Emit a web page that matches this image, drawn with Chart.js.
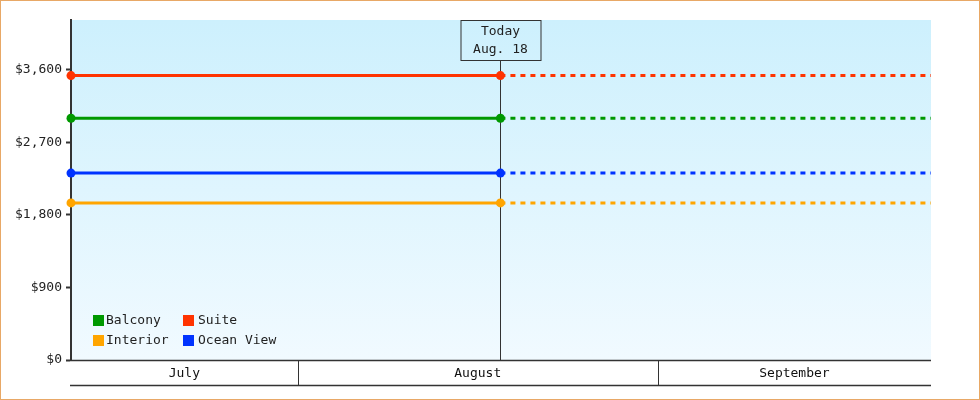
<!DOCTYPE html>
<html>
<head>
<meta charset="utf-8">
<script src="https://cdn.jsdelivr.net/npm/chart.js@4/dist/chart.umd.min.js"></script>
<style>
html,body{margin:0;padding:0;background:#fff;}
canvas{display:block;}
</style>
</head>
<body>
<canvas id="c" width="980" height="400"></canvas>
<script>
// ---- data ----
const seriesNames = ['Balcony', 'Suite', 'Interior', 'Ocean View'];
const seriesColors = ['#009900', '#ff3300', '#ffa500', '#0033ff'];
const seriesValues = [3000, 3530, 1950, 2320];
// day numbers counted from July 1 (= 0)
const months = ['July', 'August', 'September'];
const monthStarts = [0, 31, 62, 92];
const rangeStart = 11.5;
const rangeEnd = 85.5;
const todayDay = 48.45;
const todayLabel = ['Today', 'Aug. 18'];
const yTicks = [0, 900, 1800, 2700, 3600];
const yMax = 4220;

const FONT = '13px "DejaVu Sans Mono", monospace';

const datasets = seriesNames.map((name, i) => ({
  label: name,
  data: [
    {x: rangeStart, y: seriesValues[i]},
    {x: todayDay, y: seriesValues[i]},
    {x: rangeEnd, y: seriesValues[i]}
  ],
  borderColor: seriesColors[i],
  backgroundColor: seriesColors[i],
  borderWidth: 3,
  borderCapStyle: 'butt',
  pointRadius: [4.5, 4.5, 0],
  pointHoverRadius: [4.5, 4.5, 0],
  pointBorderWidth: 0,
  clip: false,
  segment: {
    borderDash: ctx => ctx.p0.parsed.x >= todayDay ? [5, 5] : undefined
  }
}));

const bgPlugin = {
  id: 'bg',
  beforeDraw(chart) {
    const {ctx, chartArea: a} = chart;
    ctx.save();
    ctx.fillStyle = '#ffffff';
    ctx.fillRect(0, 0, chart.width, chart.height);
    const g = ctx.createLinearGradient(0, a.top, 0, a.bottom);
    g.addColorStop(0, '#cdf0fd');
    g.addColorStop(1, '#f1faff');
    ctx.fillStyle = g;
    ctx.fillRect(a.left, a.top, a.right - a.left, a.bottom - a.top);
    ctx.restore();
  }
};

const todayPlugin = {
  id: 'today',
  beforeDatasetsDraw(chart) {
    const {ctx, chartArea: a, scales: {x}} = chart;
    const px = Math.round(x.getPixelForValue(todayDay)) + 0.5;
    const bw = 80, bh = 40;
    ctx.save();
    ctx.strokeStyle = '#333';
    ctx.lineWidth = 1;
    ctx.beginPath();
    ctx.moveTo(px, a.top + bh);
    ctx.lineTo(px, a.bottom);
    ctx.stroke();
    ctx.strokeRect(Math.round(px - bw / 2), a.top + 0.5, bw, bh);
    ctx.fillStyle = '#222';
    ctx.font = FONT;
    ctx.textAlign = 'center';
    ctx.textBaseline = 'middle';
    ctx.fillText(todayLabel[0], px, a.top + 12);
    ctx.fillText(todayLabel[1], px, a.top + 30);
    ctx.restore();
  }
};

const bandPlugin = {
  id: 'band',
  afterDraw(chart) {
    const {ctx, chartArea: a, scales: {x}} = chart;
    const top = a.bottom, bot = a.bottom + 25;
    ctx.save();
    ctx.strokeStyle = '#333';
    ctx.lineWidth = 1.5;
    ctx.beginPath();
    ctx.moveTo(a.left - 1, top + 0.5);
    ctx.lineTo(a.right, top + 0.5);
    ctx.stroke();
    ctx.beginPath();
    ctx.moveTo(a.left - 1, bot + 0.5);
    ctx.lineTo(a.right, bot + 0.5);
    ctx.stroke();
    ctx.lineWidth = 1;
    ctx.font = FONT;
    ctx.fillStyle = '#111';
    ctx.textAlign = 'center';
    ctx.textBaseline = 'middle';
    months.forEach((m, i) => {
      const s = Math.max(monthStarts[i], rangeStart);
      const e = Math.min(monthStarts[i + 1], rangeEnd);
      if (e <= s) return;
      const xs = x.getPixelForValue(s), xe = x.getPixelForValue(e);
      if (monthStarts[i] > rangeStart) {
        const lx = Math.round(xs) + 0.5;
        ctx.beginPath();
        ctx.moveTo(lx, top);
        ctx.lineTo(lx, bot);
        ctx.stroke();
      }
      ctx.fillText(m, (xs + xe) / 2, (top + bot) / 2 + 1);
    });
    ctx.restore();
  }
};

const legendPlugin = {
  id: 'customLegend',
  afterDraw(chart) {
    const {ctx, chartArea: a} = chart;
    const x0 = a.left + 22, y0 = a.bottom - 45;
    const colW = 90, rowH = 20;
    ctx.save();
    ctx.font = FONT;
    ctx.textBaseline = 'middle';
    ctx.textAlign = 'left';
    chart.data.datasets.forEach((ds, i) => {
      const col = i % 2, row = Math.floor(i / 2);
      const bx = x0 + col * colW, by = y0 + row * rowH;
      ctx.fillStyle = ds.borderColor;
      ctx.fillRect(bx, by, 11, 11);
      ctx.fillStyle = '#222';
      ctx.fillText(ds.label, bx + 13 + col * 2, by + 6);
    });
    ctx.restore();
  }
};

const borderPlugin = {
  id: 'frame',
  afterDraw(chart) {
    const ctx = chart.ctx;
    ctx.save();
    ctx.strokeStyle = '#e8a866';
    ctx.lineWidth = 1;
    ctx.strokeRect(0.5, 0.5, chart.width - 1, chart.height - 1);
    ctx.restore();
  }
};

new Chart(document.getElementById('c'), {
  type: 'line',
  data: {datasets},
  plugins: [bgPlugin, todayPlugin, bandPlugin, legendPlugin, borderPlugin],
  options: {
    responsive: false,
    devicePixelRatio: 1,
    animation: false,
    events: [],
    layout: {padding: {top: 20, right: 49, bottom: 40, left: 0}},
    plugins: {legend: {display: false}, tooltip: {enabled: false}},
    scales: {
      x: {
        type: 'linear',
        display: false,
        min: rangeStart,
        max: rangeEnd
      },
      y: {
        type: 'linear',
        min: 0,
        max: yMax,
        afterFit(scale) { scale.width = 71; },
        afterBuildTicks(scale) { scale.ticks = yTicks.map(v => ({value: v})); },
        ticks: {
          font: {family: '"DejaVu Sans Mono", monospace', size: 13},
          color: '#222',
          padding: 4,
          callback: v => '$' + Number(v).toLocaleString('en-US')
        },
        grid: {
          drawOnChartArea: false,
          drawTicks: true,
          tickLength: 5,
          tickWidth: 2,
          tickColor: '#333'
        },
        border: {display: true, color: '#333', width: 2}
      }
    }
  }
});
</script>
</body>
</html>
